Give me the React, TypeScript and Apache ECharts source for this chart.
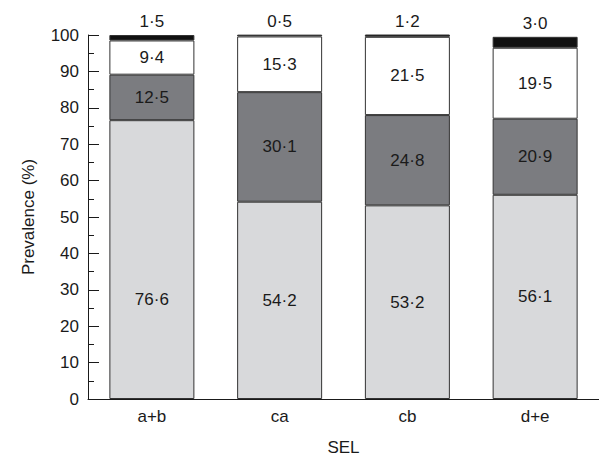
import React, { useEffect, useRef } from "react";
import * as echarts from "echarts";

const categories = ["a+b", "ca", "cb", "d+e"];
const seriesLight = [76.6, 54.2, 53.2, 56.1];
const seriesDark = [12.5, 30.1, 24.8, 20.9];
const seriesWhite = [9.4, 15.3, 21.5, 19.5];
const seriesBlack = [1.5, 0.5, 1.2, 3.0];
const yTicks = [0, 10, 20, 30, 40, 50, 60, 70, 80, 90, 100];

const FONT = "'Liberation Sans', Arial, Helvetica, sans-serif";
const fmt = (v: number) => v.toFixed(1).replace(".", "\u00B7");

export default function App() {
  const ref = useRef<HTMLDivElement>(null);
  useEffect(() => {
    document.body.style.margin = "0";
    const chart = echarts.init(ref.current!, null, { renderer: "svg" });
    const border = { borderColor: "#333333", borderWidth: 1 };
    const inLabel = {
      show: true,
      position: "inside" as const,
      color: "#1a1a1a",
      fontSize: 17,
      fontFamily: FONT,
      formatter: (p: any) => fmt(p.value),
    };
    const mk = (name: string, data: any[], color: string, label: any) => ({
      name,
      type: "bar",
      stack: "total",
      barWidth: 85,
      clip: true,
      data,
      itemStyle: { color, ...border },
      label,
    });
    chart.setOption({
      animation: false,
      textStyle: { fontFamily: FONT },
      grid: { left: 88, top: 35, width: 512, height: 369 },
      xAxis: {
        type: "category",
        data: categories,
        name: "SEL",
        nameLocation: "middle",
        nameGap: 40,
        nameTextStyle: { fontSize: 17, color: "#1a1a1a", fontFamily: FONT },
        axisLine: { lineStyle: { color: "#1a1a1a", width: 1 } },
        axisTick: { show: true, inside: true, alignWithLabel: true, length: 11, lineStyle: { color: "#1a1a1a" } },
        axisLabel: { fontSize: 17, color: "#1a1a1a", margin: 9, fontFamily: FONT },
      },
      yAxis: {
        type: "value",
        min: yTicks[0],
        max: yTicks[yTicks.length - 1],
        interval: 10,
        name: "Prevalence (%)",
        nameLocation: "middle",
        nameGap: 51,
        nameTextStyle: { fontSize: 17, color: "#1a1a1a", fontFamily: FONT },
        axisLine: { show: true, lineStyle: { color: "#1a1a1a", width: 1 } },
        axisTick: { show: true, inside: true, length: 11, lineStyle: { color: "#1a1a1a" } },
        minorTick: { show: true, splitNumber: 2, length: 6, lineStyle: { color: "#1a1a1a" } },
        splitLine: { show: false },
        axisLabel: { fontSize: 17, color: "#1a1a1a", margin: 9, fontFamily: FONT },
      },
      series: [
        mk(
          "light",
          seriesLight.map((v, i) => (i === 0 ? { value: v, label: { offset: [0, 40] } } : v)),
          "#d8d9db",
          inLabel
        ),
        mk("dark", seriesDark, "#7b7c80", inLabel),
        mk("white", seriesWhite, "#ffffff", inLabel),
        mk("black", seriesBlack, "#111111", { ...inLabel, position: "top", distance: 5 }),
      ],
    });
    return () => chart.dispose();
  }, []);
  return <div ref={ref} style={{ width: 599, height: 461 }} />;
}
